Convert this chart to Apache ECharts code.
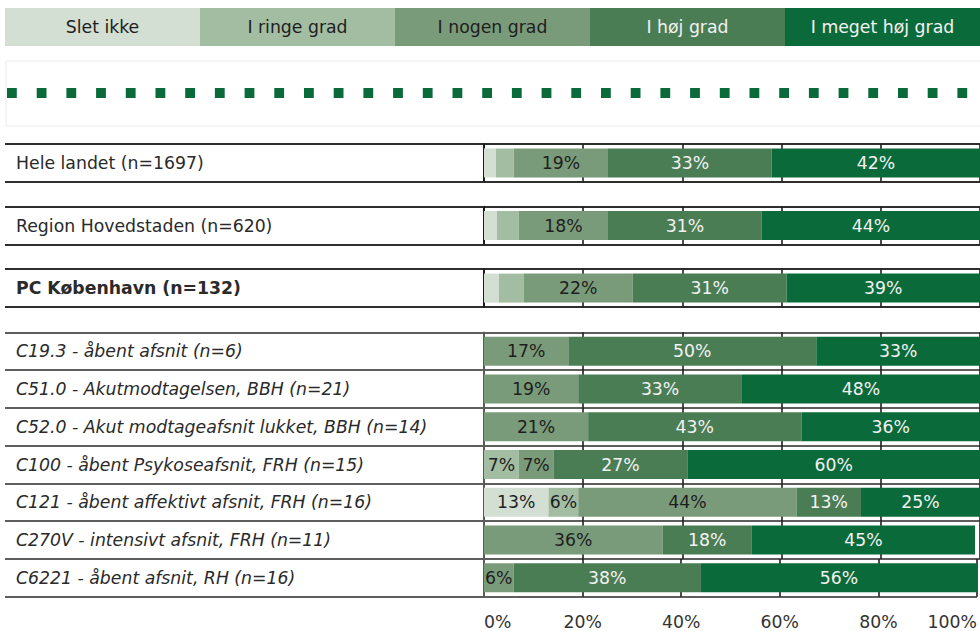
<!DOCTYPE html>
<html>
<head>
<meta charset="utf-8">
<title>Vurdering fordelt på afsnit</title>
<script src="https://cdn.jsdelivr.net/npm/echarts@6/dist/echarts.min.js"></script>
<style>
  html, body { margin: 0; padding: 0; background: #ffffff; }
  #chart { width: 980px; height: 631px; }
</style>
</head>
<body>
<div id="chart"></div>
<script>
// ---- data ----
const categories = [
  'Hele landet (n=1697)',
  'Region Hovedstaden (n=620)',
  'PC København (n=132)',
  'C19.3 - åbent afsnit (n=6)',
  'C51.0 - Akutmodtagelsen, BBH (n=21)',
  'C52.0 - Akut modtageafsnit lukket, BBH (n=14)',
  'C100 - åbent Psykoseafsnit, FRH (n=15)',
  'C121 - åbent affektivt afsnit, FRH (n=16)',
  'C270V - intensivt afsnit, FRH (n=11)',
  'C6221 - åbent afsnit, RH (n=16)'
];
const levels = ['Slet ikke', 'I ringe grad', 'I nogen grad', 'I høj grad', 'I meget høj grad'];

const sletIkke       = [2.4, 2.6, 3,  0,  0,  0,  0, 13,  0,  0];
const iRingeGrad     = [3.6, 4.4, 5,  0,  0,  0,  7,  6,  0,  0];
const iNogenGrad     = [19,  18,  22, 17, 19, 21,  7, 44, 36,  6];
const iHoejGrad      = [33,  31,  31, 50, 33, 43, 27, 13, 18, 38];
const iMegetHoejGrad = [42,  44,  39, 33, 48, 36, 60, 25, 45, 56];

const tickLabels = ['0%', '20%', '40%', '60%', '80%', '100%'];

// ---- styling ----
const seriesValues = [sletIkke, iRingeGrad, iNogenGrad, iHoejGrad, iMegetHoejGrad];
const levelColors = ['#d3dfd3', '#a3bda3', '#7a9b7a', '#4b7d55', '#0b6a3a'];
const levelTextColors = ['#1e1e1e', '#1e1e1e', '#1e1e1e', '#f2f2f2', '#f2f2f2'];
const FONT = '"DejaVu Sans", Verdana, sans-serif';
const FONT_SIZE = 17.3;
const MIN_LABELLED = 6; // segments narrower than this carry no value label

// ---- layout ----
const PLOT_LEFT = 484;
const PLOT_WIDTH = 496;
const ROW_H = 37.8;
const TABLE_LEFT = 5;
const SUMMARY_ROWS = 3;
const SUMMARY_TOP = 144, SUMMARY_PITCH = 62.6;
const UNIT_TOP = 332.3, UNIT_PITCH = 37.77;

const rowTop = i => i < SUMMARY_ROWS
  ? SUMMARY_TOP + i * SUMMARY_PITCH
  : UNIT_TOP + (i - SUMMARY_ROWS) * UNIT_PITCH;

const last = categories.length - 1;
const grids = [], xAxes = [], yAxes = [], series = [];

categories.forEach((cat, i) => {
  const summary = i < SUMMARY_ROWS;
  const ruleColor = summary ? '#2e2e2e' : '#5e5e5e';
  grids.push({ left: PLOT_LEFT, top: rowTop(i), width: PLOT_WIDTH, height: ROW_H });

  xAxes.push({
    gridIndex: i, type: 'value', min: 0, max: 100, interval: 20,
    axisLine: { show: false }, axisTick: { show: false },
    splitLine: { show: true, lineStyle: { color: '#1f1f1f', width: 1.6 } },
    axisLabel: {
      show: i === last,
      margin: 17,
      fontFamily: FONT, fontSize: FONT_SIZE, color: '#333',
      alignMinLabel: 'left', alignMaxLabel: 'right',
      formatter: v => tickLabels[Math.round(v / 20)]
    }
  });

  yAxes.push({
    gridIndex: i, type: 'category', data: [cat],
    axisLine: { show: true, lineStyle: { color: summary ? '#111' : '#5e5e5e', width: 1.6 } },
    axisTick: { show: true, length: PLOT_LEFT - TABLE_LEFT, lineStyle: { color: ruleColor, width: 2.2 } },
    splitLine: { show: true, lineStyle: { color: ruleColor, width: 2.2 } },
    axisLabel: {
      margin: PLOT_LEFT - 16, align: 'left',
      fontFamily: FONT, fontSize: FONT_SIZE, color: '#2a2a2a',
      fontWeight: i === 2 ? 'bold' : 'normal',
      fontStyle: summary ? 'normal' : 'italic'
    }
  });

  levels.forEach((name, j) => {
    series.push({
      type: 'bar', name,
      xAxisIndex: i, yAxisIndex: i,
      stack: 'row' + i,
      barWidth: 29,
      data: [seriesValues[j][i]],
      itemStyle: { color: levelColors[j] },
      label: {
        show: true, position: 'inside',
        fontFamily: FONT, fontSize: FONT_SIZE,
        color: levelTextColors[j],
        formatter: p => (p.value >= MIN_LABELLED ? p.value + '%' : '')
      }
    });
  });
});

// header of answer categories, and the dotted marker strip beneath it
const CELL_W = (980 - TABLE_LEFT) / levels.length;
const graphics = [];
levels.forEach((name, j) => {
  graphics.push({
    type: 'rect', left: TABLE_LEFT + j * CELL_W, top: 8, silent: true,
    shape: { width: CELL_W + 0.5, height: 38 },
    style: { fill: levelColors[j] }
  });
  graphics.push({
    type: 'text', silent: true,
    x: TABLE_LEFT + j * CELL_W + CELL_W / 2, y: 27,
    style: {
      text: name, fill: levelTextColors[j],
      font: FONT_SIZE + 'px ' + FONT,
      align: 'center', verticalAlign: 'middle',
      textAlign: 'center', textVerticalAlign: 'middle'
    }
  });
});
graphics.push({
  type: 'rect', silent: true,
  shape: { x: 6, y: 61, width: 980, height: 65 },
  style: { fill: 'none', stroke: '#ececec', lineWidth: 1 }
});
graphics.push({
  type: 'line', silent: true,
  shape: { x1: 7, y1: 93, x2: 975, y2: 93 },
  style: { stroke: '#0b6a3a', lineWidth: 10, lineDash: [9.8, 19.9], lineCap: 'butt' }
});

const chart = echarts.init(document.getElementById('chart'), null, { renderer: 'svg' });
chart.setOption({
  animation: false,
  backgroundColor: '#ffffff',
  textStyle: { fontFamily: FONT },
  grid: grids,
  xAxis: xAxes,
  yAxis: yAxes,
  series,
  graphic: graphics
});
</script>
</body>
</html>
